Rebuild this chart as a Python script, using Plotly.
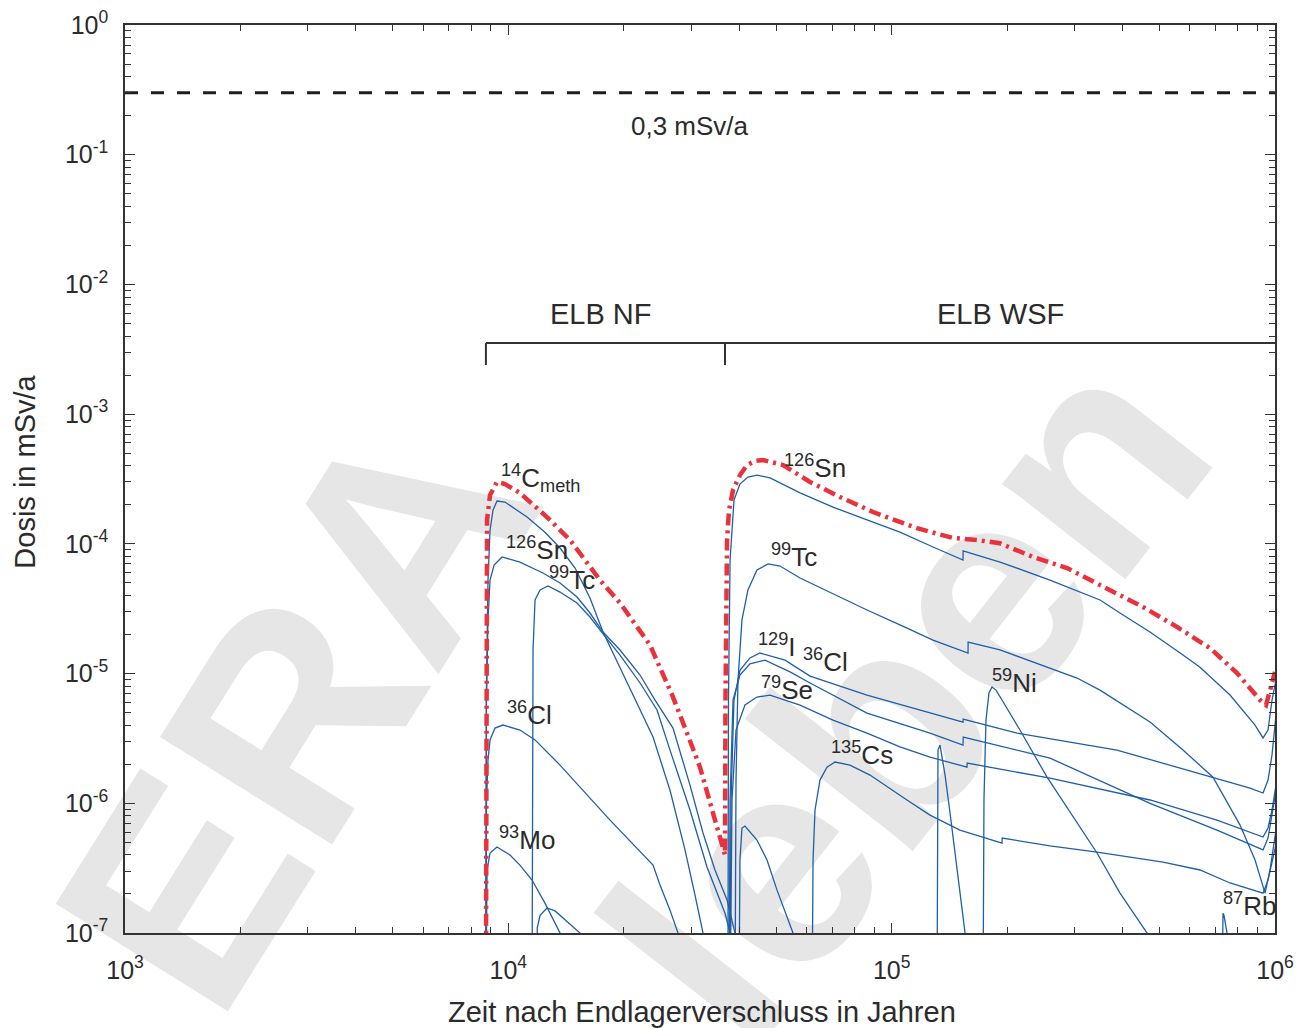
import numpy as np
import plotly.graph_objects as go

# ---------------- data: time in years, dose in mSv/a ----------------
C14_NF_T = [8740, 8760, 8850, 8960, 9120, 9340, 9800, 11190, 12460, 13640, 14930, 16330, 17660,
            19560, 22060, 23850, 26410, 28900, 30690, 32200, 32600]
C14_NF_D = [3e-8, 6.25e-6, 5.26e-5, 1.28e-4, 1.82e-4, 2.14e-4, 2.10e-4, 1.61e-4, 1.23e-4, 9.29e-5,
            6.51e-5, 3.82e-5, 2.09e-5, 1.10e-5, 5.24e-6, 3.24e-6, 1.26e-6, 4.37e-7, 1.96e-7, 1.0e-7, 5e-8]

SN126_NF_T = [8740, 8770, 8850, 8960, 9180, 9630, 10720, 12310, 13640, 15110, 16330, 17660, 19560,
              22060, 24140, 25630, 26890, 29780, 32200, 34600, 37200, 39020, 39400]
SN126_NF_D = [3e-8, 6.25e-6, 2.59e-5, 5.26e-5, 6.87e-5, 7.92e-5, 7.24e-5, 5.96e-5, 4.99e-5, 3.89e-5,
              2.93e-5, 2.09e-5, 1.52e-5, 9.75e-6, 6.25e-6, 4.79e-6, 3.80e-6, 1.38e-6, 5.90e-7, 3.06e-7,
              1.80e-7, 1.0e-7, 5e-8]

TC99_NF_T = [11530, 11550, 11600, 11740, 12100, 12690, 13640, 15110, 16330, 17660, 19560, 22060,
             24430, 26410, 29780, 32980, 36750, 37880, 38200]
TC99_NF_D = [3e-8, 1.51e-6, 1.52e-5, 3.69e-5, 4.41e-5, 4.73e-5, 4.25e-5, 3.50e-5, 2.73e-5, 2.02e-5,
             1.39e-5, 8.46e-6, 5.24e-6, 2.57e-6, 8.88e-7, 3.23e-7, 1.42e-7, 1.0e-7, 5e-8]

CL36_NF_T = [8740, 8770, 8850, 8960, 9230, 9680, 10720, 11740, 13640, 18420, 23850, 24870, 26410,
             27710, 28000]
CL36_NF_D = [3e-8, 1.0e-6, 2.16e-6, 3.08e-6, 3.80e-6, 4.01e-6, 3.67e-6, 3.08e-6, 1.97e-6, 7.42e-7,
             3.34e-7, 2.34e-7, 1.50e-7, 1.0e-7, 5e-8]

MO93_NF_T = [8740, 8800, 8960, 9340, 10100, 10720, 11530, 12460, 13640, 14000]
MO93_NF_D = [3e-8, 3.06e-7, 4.14e-7, 4.60e-7, 3.99e-7, 3.34e-7, 2.56e-7, 1.70e-7, 1.0e-7, 5e-8]

HUMP_NF_T = [11860, 11900, 12100, 12610, 13240, 14050, 15380, 15600]
HUMP_NF_D = [5e-8, 1.1e-7, 1.37e-7, 1.56e-7, 1.48e-7, 1.26e-7, 1.0e-7, 8e-8]

SN126_WSF_T = [37400, 37520, 37880, 38790, 40200, 42180, 44530, 48160, 57670, 70300, 86230, 105100,
               128200, 153500, 153600, 191700, 258800, 349500, 401500, 472000, 575400, 637300, 763200,
               887000, 930700, 959000, 982200, 1006000]
SN126_WSF_D = [3e-8, 6.25e-6, 7.5e-5, 2.18e-4, 2.89e-4, 3.27e-4, 3.39e-4, 3.22e-4, 2.47e-4, 1.92e-4,
               1.53e-4, 1.23e-4, 9.46e-5, 7.5e-5, 8.81e-5, 7.24e-5, 5.26e-5, 3.69e-5, 2.83e-5, 2.09e-5,
               1.39e-5, 1.12e-5, 6.83e-6, 4.01e-6, 3.19e-6, 3.67e-6, 6.25e-6, 8.92e-6]

TC99_WSF_T = [39020, 39260, 39730, 40690, 42180, 44530, 47590, 51140, 57670, 70300, 86230, 105100,
              128200, 158200, 158300, 191700, 258800, 304400, 349500, 472000, 575400, 689100, 810600,
              887000, 941900, 970500, 1006000]
TC99_WSF_D = [3e-8, 1.51e-6, 8.92e-6, 2.59e-5, 4.41e-5, 6.29e-5, 7.0e-5, 6.75e-5, 5.45e-5, 4.1e-5,
              3.09e-5, 2.37e-5, 1.81e-5, 1.44e-5, 1.75e-5, 1.52e-5, 1.10e-5, 9.24e-6, 7.46e-6, 4.23e-6,
              2.57e-6, 1.59e-6, 6.79e-7, 3.65e-7, 2.03e-7, 3.06e-7, 6.22e-7]

I129_T = [37880, 38100, 38790, 40200, 42690, 45350, 52700, 61240, 86230, 125900, 153500, 153600,
          212300, 387100, 689100, 860700, 930700, 959000, 982200, 1006000]
I129_D = [3e-8, 1.06e-6, 6.25e-6, 1.06e-5, 1.32e-5, 1.44e-5, 1.27e-5, 9.57e-6, 6.83e-6, 4.96e-6,
          4.23e-6, 4.46e-6, 3.48e-6, 2.57e-6, 1.59e-6, 1.31e-6, 1.20e-6, 1.51e-6, 2.36e-6, 4.79e-6]

CL36_WSF_T = [37650, 37880, 38560, 40200, 42690, 46730, 54300, 61240, 86230, 125900, 153500, 153700,
              258800, 472000, 705800, 930700, 959000, 982200, 1006000]
CL36_WSF_D = [3e-8, 1.06e-6, 6.25e-6, 9.75e-6, 1.19e-5, 1.27e-5, 1.03e-5, 8.46e-6, 4.96e-6, 3.48e-6,
              2.81e-6, 3.24e-6, 2.23e-6, 1.0e-6, 6.22e-7, 4.37e-7, 5.4e-7, 8.11e-7, 1.26e-6]

SE79_T = [37880, 38330, 39260, 41430, 44530, 48160, 57670, 70300, 86230, 105100, 125900, 157200,
          157400, 258800, 472000, 705800, 930700, 959000, 982200, 1006000]
SE79_D = [3e-8, 1.06e-6, 3.67e-6, 5.72e-6, 6.59e-6, 6.83e-6, 5.72e-6, 4.38e-6, 3.48e-6, 2.72e-6,
          2.27e-6, 1.90e-6, 2.04e-6, 1.56e-6, 1.06e-6, 7.42e-7, 5.49e-7, 6.45e-7, 8.88e-7, 1.38e-6]

CS135_T = [61990, 62360, 63100, 65010, 67800, 71140, 77860, 87790, 109600, 125900, 150700, 194000,
           194300, 258800, 343300, 510500, 637300, 763200, 930700, 959000, 982200, 1006000]
CS135_D = [3e-8, 3.65e-7, 8.88e-7, 1.51e-6, 1.90e-6, 2.08e-6, 1.97e-6, 1.65e-6, 1.06e-6, 8.11e-7,
           6.22e-7, 4.94e-7, 5.40e-7, 4.69e-7, 4.21e-7, 3.52e-7, 3.06e-7, 2.43e-7, 2.03e-7, 2.56e-7,
           3.52e-7, 4.8e-7]

NI59_T = [173100, 174100, 176200, 179400, 182700, 187200, 197500, 216100, 254300, 343300, 394200,
          463600, 480000]
NI59_D = [3e-8, 1.06e-6, 4.38e-6, 7.08e-6, 7.87e-6, 7.46e-6, 5.72e-6, 3.67e-6, 1.59e-6, 4.14e-7,
          2.03e-7, 1.0e-7, 5e-8]

SPIKE_WSF_T = [131300, 131700, 132100, 133700, 137800, 142000, 149000, 155400, 158000]
SPIKE_WSF_D = [3e-8, 1.06e-6, 2.57e-6, 2.81e-6, 1.65e-6, 8.41e-7, 2.56e-7, 1.0e-7, 5e-8]

HUMP_WSF_T = [39970, 40200, 40690, 41430, 44530, 47300, 50230, 55290, 57000]
HUMP_WSF_D = [3e-8, 3.65e-7, 6.45e-7, 6.68e-7, 5.21e-7, 3.65e-7, 2.14e-7, 1.0e-7, 5e-8]

RB87_T = [727300, 729500, 731700, 736000, 749600, 752000]
RB87_D = [3e-8, 1.37e-7, 1.42e-7, 1.37e-7, 1.0e-7, 5e-8]

TOTAL_T = [8740, 8745, 8750, 8800, 8960, 9340, 9800, 10720, 12610, 14490, 17340, 19560, 23420, 26890,
           29250, 31620, 34190, 36750, 36850, 36950, 37200, 37650, 38560, 40200, 41930, 44000, 46170,
           52070, 61240, 73300, 89380, 116400, 144500, 167000, 191700, 233800, 286700, 349500, 452600,
           555000, 676800, 796100, 914200, 947600, 970500, 1000000]
TOTAL_D = [3e-8, 1e-6, 3.69e-5, 1.53e-4, 2.38e-4, 3.0e-4, 2.89e-4, 2.47e-4, 1.61e-4, 1.07e-4, 5.26e-5,
           3.5e-5, 1.66e-5, 6.59e-6, 3.48e-6, 1.9e-6, 8.41e-7, 4.0e-7, 6.25e-6, 3.69e-5, 1.07e-4,
           1.82e-4, 2.6e-4, 3.39e-4, 4.05e-4, 4.35e-4, 4.43e-4, 4.05e-4, 3.0e-4, 2.3e-4, 1.76e-4,
           1.32e-4, 1.11e-4, 1.07e-4, 1.01e-4, 7.92e-5, 6.51e-5, 4.81e-5, 3.26e-5, 2.29e-5, 1.57e-5,
           1.01e-5, 6.25e-6, 5.72e-6, 7.46e-6, 1.03e-5]

LIMIT_DOSE = 0.3
LIMIT_LABEL = "0,3 mSv/a"

X_TICKS = [1e3, 1e4, 1e5, 1e6]
X_TICK_LABELS = ["10<sup>3</sup>", "10<sup>4</sup>", "10<sup>5</sup>", "10<sup>6</sup>"]
Y_TICKS = [1e-7, 1e-6, 1e-5, 1e-4, 1e-3, 1e-2, 1e-1, 1e0]
Y_TICK_LABELS = ["10<sup>-7</sup>", "10<sup>-6</sup>", "10<sup>-5</sup>", "10<sup>-4</sup>",
                 "10<sup>-3</sup>", "10<sup>-2</sup>", "10<sup>-1</sup>", "10<sup>0</sup>"]

PHASE_NAMES = ["ELB NF", "ELB WSF"]
PHASE_START = [8740, 36750]

# nuclide labels: text, anchor time, anchor dose
LABEL_TEXT = ["<sup>14</sup>C<sub>meth</sub>", "<sup>126</sup>Sn", "<sup>99</sup>Tc", "<sup>36</sup>Cl",
              "<sup>93</sup>Mo", "<sup>126</sup>Sn", "<sup>99</sup>Tc", "<sup>129</sup>I",
              "<sup>36</sup>Cl", "<sup>79</sup>Se", "<sup>135</sup>Cs", "<sup>59</sup>Ni",
              "<sup>87</sup>Rb"]
LABEL_T = [9470, 9760, 12610, 9820, 9360, 51700, 47900, 44300, 58000, 45100, 68700, 180800, 725000]
LABEL_D = [3.22e-4, 9.29e-5, 5.45e-5, 4.88e-6, 5.40e-7, 3.98e-4, 8.2e-5, 1.66e-5, 1.27e-5, 7.74e-6,
           2.44e-6, 8.76e-6, 1.67e-7]

# ---------------- styling ----------------
BLUE = "#1f5fa8"
RED = "#e8323c"
INK = "#2b2b2b"
FONT = "Liberation Sans"
X_LOG_RANGE = [3, 6]
Y_LOG_RANGE = [-7, 0]


def paper_x(t):
    return (np.log10(t) - X_LOG_RANGE[0]) / (X_LOG_RANGE[1] - X_LOG_RANGE[0])


def paper_y(d):
    return (np.log10(d) - Y_LOG_RANGE[0]) / (Y_LOG_RANGE[1] - Y_LOG_RANGE[0])


fig = go.Figure()

blue_series = [
    (C14_NF_T, C14_NF_D), (SN126_NF_T, SN126_NF_D), (TC99_NF_T, TC99_NF_D), (CL36_NF_T, CL36_NF_D),
    (MO93_NF_T, MO93_NF_D), (HUMP_NF_T, HUMP_NF_D), (SN126_WSF_T, SN126_WSF_D),
    (TC99_WSF_T, TC99_WSF_D), (I129_T, I129_D), (CL36_WSF_T, CL36_WSF_D), (SE79_T, SE79_D),
    (CS135_T, CS135_D), (NI59_T, NI59_D), (SPIKE_WSF_T, SPIKE_WSF_D), (HUMP_WSF_T, HUMP_WSF_D),
    (RB87_T, RB87_D),
]
for t, d in blue_series:
    fig.add_trace(go.Scatter(x=t, y=d, mode="lines", line=dict(color=BLUE, width=1.3),
                             hoverinfo="skip", showlegend=False))

fig.add_trace(go.Scatter(x=TOTAL_T, y=TOTAL_D, mode="lines",
                         line=dict(color=RED, width=4.5, dash="12px,5px,3px,5px"),
                         hoverinfo="skip", showlegend=False))

fig.add_trace(go.Scatter(x=[X_TICKS[0], X_TICKS[-1]], y=[LIMIT_DOSE, LIMIT_DOSE], mode="lines",
                         line=dict(color="#1e1e1e", width=3, dash="13px,13px"),
                         hoverinfo="skip", showlegend=False))

# watermark (drawn below the data)
for text, cx, cy, ang in [("<b>ERA</b>", 0.128, 0.262, -58), ("<b>leben</b>", 0.660, 0.282, -52)]:
    fig.add_shape(type="rect", xref="paper", yref="paper", x0=cx - 0.005, x1=cx + 0.005,
                  y0=cy - 0.005, y1=cy + 0.005, line=dict(width=0), fillcolor="rgba(0,0,0,0)",
                  layer="below",
                  label=dict(text=text, textangle=ang, textposition="middle center",
                             font=dict(size=295, color="#e6e6e6", family=FONT)))

# phase bracket
bracket_y = paper_y(3.53e-3)
tick_y = paper_y(2.39e-3)
fig.add_shape(type="line", xref="paper", yref="paper", x0=paper_x(PHASE_START[0]), x1=1.0,
              y0=bracket_y, y1=bracket_y, line=dict(color="#333333", width=2))
for t0 in PHASE_START:
    fig.add_shape(type="line", xref="paper", yref="paper", x0=paper_x(t0), x1=paper_x(t0),
                  y0=bracket_y, y1=tick_y, line=dict(color="#333333", width=2))

annotations = []
for name, tx in zip(PHASE_NAMES, [17450, 191700]):
    annotations.append(dict(x=np.log10(tx), y=np.log10(5.91e-3), xref="x", yref="y", text=name,
                            showarrow=False, font=dict(size=29, color=INK, family=FONT),
                            xanchor="center", yanchor="middle"))
annotations.append(dict(x=np.log10(29780), y=np.log10(0.1665), xref="x", yref="y", text=LIMIT_LABEL,
                        showarrow=False, font=dict(size=26, color=INK, family=FONT),
                        xanchor="center", yanchor="middle"))
for txt, t, d in zip(LABEL_TEXT, LABEL_T, LABEL_D):
    annotations.append(dict(x=np.log10(t), y=np.log10(d), xref="x", yref="y", text=txt,
                            showarrow=False, font=dict(size=26, color=INK, family=FONT),
                            xanchor="left", yanchor="middle"))
# axis titles
annotations.append(dict(x=-0.087, y=0.508, xref="paper", yref="paper", text="Dosis in mSv/a",
                        textangle=-90, showarrow=False, font=dict(size=29, color=INK, family=FONT),
                        xanchor="center", yanchor="middle"))
annotations.append(dict(x=0.502, y=-0.087, xref="paper", yref="paper",
                        text="Zeit nach Endlagerverschluss in Jahren", showarrow=False,
                        font=dict(size=29, color=INK, family=FONT), xanchor="center", yanchor="middle"))

x_minor = [m * 10 ** e for e in range(3, 6) for m in range(2, 10)]
y_minor = [m * 10.0 ** e for e in range(-7, 0) for m in range(2, 10)]

axis_common = dict(type="log", showgrid=False, zeroline=False, showline=True, linecolor="#333333",
                   linewidth=1.5, ticks="inside", ticklen=10, tickwidth=1.2, tickcolor="#333333",
                   mirror="allticks", tickmode="array", automargin=False,
                   tickfont=dict(size=25, color=INK, family=FONT))

fig.update_layout(
    width=1298, height=1028,
    margin=dict(l=125, r=23, t=25, b=95),
    paper_bgcolor="white", plot_bgcolor="rgba(0,0,0,0)",
    xaxis=dict(range=X_LOG_RANGE, tickvals=X_TICKS, ticktext=X_TICK_LABELS, ticklabelstandoff=14,
               minor=dict(tickmode="array", tickvals=x_minor, ticks="inside", ticklen=6,
                          tickwidth=1, tickcolor="#333333", showgrid=False),
               **axis_common),
    yaxis=dict(range=Y_LOG_RANGE, tickvals=Y_TICKS, ticktext=Y_TICK_LABELS, ticklabelstandoff=10,
               minor=dict(tickmode="array", tickvals=y_minor, ticks="inside", ticklen=6,
                          tickwidth=1, tickcolor="#333333", showgrid=False),
               **axis_common),
    annotations=annotations,
    showlegend=False,
)

fig.write_html("out.html")
